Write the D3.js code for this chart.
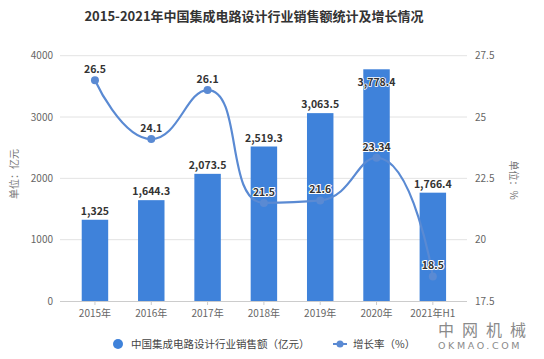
<!DOCTYPE html>
<html><head><meta charset="utf-8">
<script src="https://cdn.jsdelivr.net/npm/d3@7"></script>
<style>
html,body{margin:0;padding:0;background:#fff;}
svg{display:block;font-family:"Noto Sans CJK SC","Microsoft YaHei",sans-serif;}
</style></head>
<body>
<svg id="chart" width="544" height="359"></svg>
<script>
const categories = ["2015年","2016年","2017年","2018年","2019年","2020年","2021年H1"];
const salesValues = [1325, 1644.3, 2073.5, 2519.3, 3063.5, 3778.4, 1766.4];
const growthValues = [26.5, 24.1, 26.1, 21.5, 21.6, 23.34, 18.5];
const leftTicks = [0, 1000, 2000, 3000, 4000];
const rightTicks = [17.5, 20, 22.5, 25, 27.5];
const growthLabels = ["26.5","24.1","26.1","21.5","21.6","23.34","18.5"];

const svg = d3.select("#chart");
const gridX0 = 60, gridX1 = 467, yBottom = 301, yTop = 55.7;
const barColor = "#3f82da", lineColor = "#5a8ad3";

const x = d3.scaleBand().domain(categories).range([66.8, 461]).paddingInner(0.53).paddingOuter(0.265);
const xc = d => x(d) + x.bandwidth()/2;
const yL = d3.scaleLinear().domain([0, 4000]).range([yBottom, yTop]);
const yR = d3.scaleLinear().domain([17.5, 27.5]).range([yBottom, yTop]);

// title
svg.append("text").attr("x", 254).attr("y", 21).attr("text-anchor","middle")
  .attr("font-size", 13).attr("font-weight","bold").attr("fill","#333")
  .text("2015-2021年中国集成电路设计行业销售额统计及增长情况");

// gridlines
svg.append("g").selectAll("line").data(leftTicks.slice(1)).join("line")
  .attr("x1", gridX0).attr("x2", gridX1).attr("y1", d=>yL(d)).attr("y2", d=>yL(d))
  .attr("stroke","#e3e3e3").attr("stroke-width",1);

// left tick labels
svg.append("g").selectAll("text").data(leftTicks).join("text")
  .attr("x", 53).attr("y", d=>yL(d)+3.5).attr("text-anchor","end")
  .attr("font-size",10).attr("fill","#666").text(d=>d);
// right tick labels
svg.append("g").selectAll("text").data(rightTicks).join("text")
  .attr("x", 475).attr("y", d=>yR(d)+3.5).attr("text-anchor","start")
  .attr("font-size",10).attr("fill","#666").text(d=>d);

// axis titles
svg.append("text").attr("transform","translate(18,174) rotate(-90)").attr("text-anchor","middle")
  .attr("font-size",10).attr("fill","#777").text("单位：亿元");
svg.append("text").attr("transform","translate(510,180) rotate(90)").attr("text-anchor","middle")
  .attr("font-size",10).attr("fill","#777").text("单位：%");

// bars
svg.append("g").selectAll("rect").data(salesValues).join("rect")
  .attr("x",(d,i)=>x(categories[i])).attr("width",x.bandwidth())
  .attr("y",d=>yL(d)).attr("height",d=>yBottom-yL(d)).attr("fill",barColor);

// x axis line
svg.append("line").attr("x1",gridX0).attr("x2",gridX1).attr("y1",yBottom+0.5).attr("y2",yBottom+0.5)
  .attr("stroke","#ccc");
svg.append("g").selectAll("line").data(categories).join("line")
  .attr("x1",d=>xc(d)).attr("x2",d=>xc(d)).attr("y1",yBottom).attr("y2",yBottom+4).attr("stroke","#ccc");
svg.append("g").selectAll("text").data(categories).join("text")
  .attr("x",d=>xc(d)).attr("y",317).attr("text-anchor","middle")
  .attr("font-size",10).attr("fill","#666").text(d=>d);

// bar labels
const fmt = d3.format(",");
svg.append("g").selectAll("text").data(salesValues).join("text")
  .attr("x",(d,i)=>xc(categories[i])).attr("y",d=>Math.max(yL(d)-5, 86))
  .attr("text-anchor","middle").attr("font-size",10.5).attr("font-weight","bold")
  .attr("fill","#333").attr("stroke","#fff").attr("stroke-width",1.5).attr("paint-order","stroke")
  .text(d=>fmt(d));

// smooth line (echarts-like bezier with control point clamping)
const pts = growthValues.map((v,i)=>[xc(categories[i]), yR(v)]);
const smooth = 0.5;
const clamp = (v,a,b)=>Math.max(Math.min(a,b), Math.min(Math.max(a,b), v));
const p = d3.path();
p.moveTo(pts[0][0], pts[0][1]);
let cp0 = pts[0].slice();
for (let i=1;i<pts.length;i++){
  const cur = pts[i], prev = pts[i-1];
  let cp1, nextCp0;
  if (i < pts.length-1){
    const next = pts[i+1];
    let vx = next[0]-prev[0], vy = next[1]-prev[1];
    const lp = Math.hypot(cur[0]-prev[0], cur[1]-prev[1]);
    const ln = Math.hypot(next[0]-cur[0], next[1]-cur[1]);
    const r = ln/(ln+lp);
    let ncx = cur[0]+vx*smooth*r, ncy = cur[1]+vy*smooth*r;
    ncx = clamp(ncx, next[0], cur[0]); ncy = clamp(ncy, next[1], cur[1]);
    vx = ncx-cur[0]; vy = ncy-cur[1];
    let c1x = cur[0]-vx*lp/ln, c1y = cur[1]-vy*lp/ln;
    c1x = clamp(c1x, prev[0], cur[0]); c1y = clamp(c1y, prev[1], cur[1]);
    vx = cur[0]-c1x; vy = cur[1]-c1y;
    ncx = cur[0]+vx*ln/lp; ncy = cur[1]+vy*ln/lp;
    cp1 = [c1x,c1y]; nextCp0 = [ncx,ncy];
  } else {
    cp1 = cur.slice(); nextCp0 = cur.slice();
  }
  p.bezierCurveTo(cp0[0],cp0[1],cp1[0],cp1[1],cur[0],cur[1]);
  cp0 = nextCp0;
}
svg.append("path").attr("d",p.toString()).attr("fill","none").attr("stroke",lineColor).attr("stroke-width",2.2);
svg.append("g").selectAll("circle").data(pts).join("circle")
  .attr("cx",d=>d[0]).attr("cy",d=>d[1]).attr("r",4).attr("fill",lineColor);

// line labels
svg.append("g").selectAll("text").data(growthValues).join("text")
  .attr("x",(d,i)=>xc(categories[i])).attr("y",d=>yR(d)-7)
  .attr("text-anchor","middle").attr("font-size",10.5).attr("font-weight","bold")
  .attr("fill","#333").attr("stroke","#fff").attr("stroke-width",2).attr("paint-order","stroke")
  .text((d,i)=>growthLabels[i]);

// legend
svg.append("circle").attr("cx",118).attr("cy",344).attr("r",5).attr("fill",barColor);
svg.append("text").attr("x",131).attr("y",347.5).attr("font-size",10.5).attr("fill","#444")
  .text("中国集成电路设计行业销售额（亿元）");
svg.append("line").attr("x1",333).attr("x2",347).attr("y1",344).attr("y2",344).attr("stroke",lineColor).attr("stroke-width",2);
svg.append("circle").attr("cx",340).attr("cy",344).attr("r",3.5).attr("fill",lineColor);
svg.append("text").attr("x",353).attr("y",347.5).attr("font-size",10.5).attr("fill","#444")
  .text("增长率（%）");

// watermark
svg.append("text").attr("x",438).attr("y",336).attr("font-size",16).attr("fill","#8a8a8a")
  .attr("letter-spacing",8).text("中网机械");
svg.append("text").attr("x",438).attr("y",349).attr("font-size",9.5).attr("fill","#8a8a8a")
  .attr("letter-spacing",2.6).attr("font-family","DejaVu Sans, sans-serif").text("OKMAO.COM");
</script>
</body></html>
